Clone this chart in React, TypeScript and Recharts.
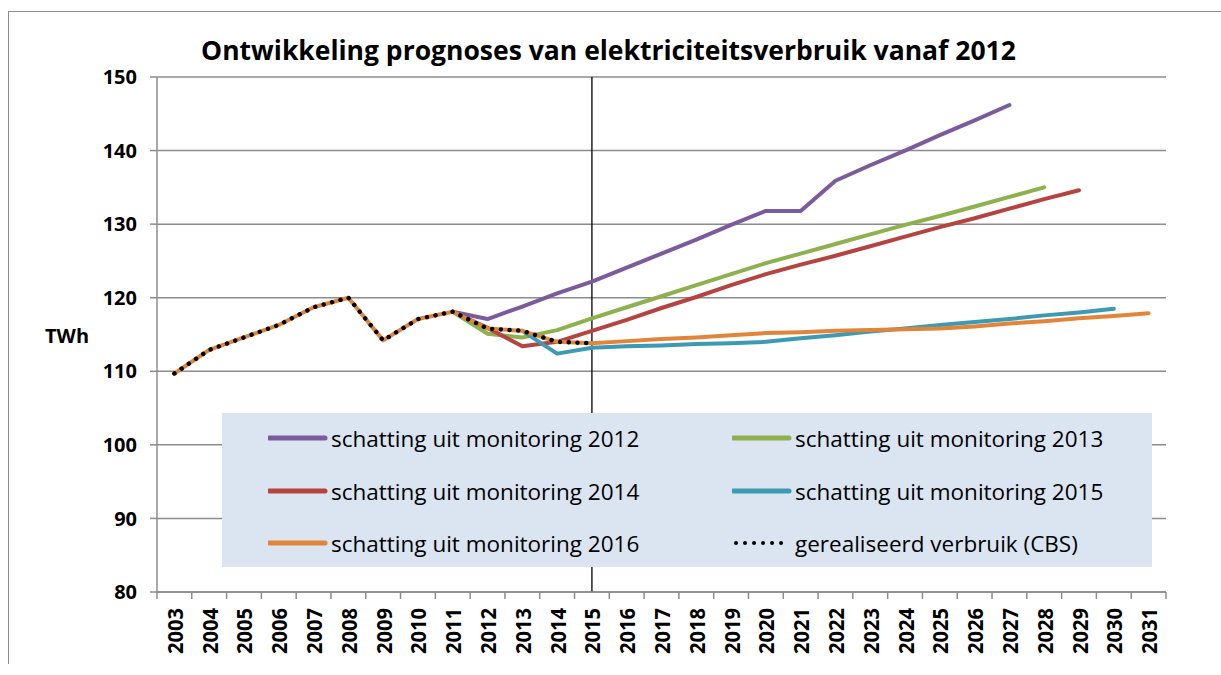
import React from 'react';
import { LineChart, Line, XAxis, YAxis, CartesianGrid, ReferenceLine, Legend } from 'recharts';

// ---------- data ----------
const years = [
  '2003', '2004', '2005', '2006', '2007', '2008', '2009', '2010', '2011', '2012',
  '2013', '2014', '2015', '2016', '2017', '2018', '2019', '2020', '2021', '2022',
  '2023', '2024', '2025', '2026', '2027', '2028', '2029', '2030', '2031',
];
const yTicks = [80, 90, 100, 110, 120, 130, 140, 150];

// realised consumption (CBS), 2003..2015
const actual = [109.7, 112.9, 114.6, 116.3, 118.7, 120.0, 114.2, 117.1, 118.1, 115.8, 115.5, 114.0, 113.8];

// forecasts; each starts at the given year
const mon2012Start = '2011';
const mon2012 = [118.1, 117.1, 118.8, 120.6, 122.2, 124.1, 126.0, 127.9, 129.9, 131.8, 131.8, 135.9, 138.0, 140.0, 142.1, 144.1, 146.2];
const mon2013Start = '2011';
const mon2013 = [118.1, 115.1, 114.6, 115.6, 117.2, 118.7, 120.2, 121.7, 123.2, 124.7, 126.0, 127.3, 128.6, 129.9, 131.1, 132.4, 133.7, 135.0];
const mon2014Start = '2011';
const mon2014 = [118.1, 115.9, 113.4, 114.0, 115.5, 117.0, 118.6, 120.1, 121.7, 123.2, 124.5, 125.7, 127.0, 128.3, 129.6, 130.8, 132.1, 133.4, 134.6];
const mon2015Start = '2013';
const mon2015 = [115.5, 112.4, 113.2, 113.4, 113.5, 113.7, 113.8, 114.0, 114.5, 114.9, 115.4, 115.8, 116.3, 116.7, 117.1, 117.6, 118.0, 118.5];
const mon2016Start = '2003';
const mon2016 = [109.7, 112.9, 114.6, 116.3, 118.7, 120.0, 114.2, 117.1, 118.1, 115.8, 115.5, 114.0, 113.8,
  114.1, 114.4, 114.6, 114.9, 115.2, 115.3, 115.5, 115.6, 115.7, 115.8, 116.1, 116.5, 116.8, 117.2, 117.5, 117.9];

const seriesNames = [
  'schatting uit monitoring 2012',
  'schatting uit monitoring 2013',
  'schatting uit monitoring 2014',
  'schatting uit monitoring 2015',
  'schatting uit monitoring 2016',
  'gerealiseerd verbruik (CBS)',
];
const titleText = 'Ontwikkeling prognoses van elektriciteitsverbruik vanaf 2012';
const yUnit = 'TWh';
const markerYear = '2015';

// ---------- styling ----------
const COLORS = ['#7A5B9C', '#8DB14E', '#B4443F', '#3C9AB3', '#E0853A', '#000000'];
const FONT = "'Open Sans', 'DejaVu Sans', sans-serif";
const AXIS = '#8C8C8C';

const W = 1221;
const H = 675;
const PLOT_LEFT = 157;
const PLOT_RIGHT = 1166;
const PLOT_TOP = 77;
const PLOT_BOTTOM = 592;
const BAND = (PLOT_RIGHT - PLOT_LEFT) / years.length;

function place(start: string, vals: number[]) {
  const s = years.indexOf(start);
  return (i: number) => (i >= s && i < s + vals.length ? vals[i - s] : null);
}

const p2012 = place(mon2012Start, mon2012);
const p2013 = place(mon2013Start, mon2013);
const p2014 = place(mon2014Start, mon2014);
const p2015 = place(mon2015Start, mon2015);
const p2016 = place(mon2016Start, mon2016);
const pAct = place('2003', actual);

const data = years.map((y, i) => ({
  year: y,
  m2012: p2012(i),
  m2013: p2013(i),
  m2014: p2014(i),
  m2015: p2015(i),
  m2016: p2016(i),
  cbs: pAct(i),
}));

const XTick = (props: any) => {
  const { x, payload, index } = props;
  const axisY = PLOT_BOTTOM;
  const half = BAND / 2;
  const isLast = index === years.length - 1;
  const ty = axisY + 16;
  return (
    <g>
      <line x1={x - half} x2={x - half} y1={axisY} y2={axisY + 7} stroke={AXIS} strokeWidth={1.5} />
      {isLast && <line x1={x + half} x2={x + half} y1={axisY} y2={axisY + 7} stroke={AXIS} strokeWidth={1.5} />}
      <text
        x={x}
        y={ty}
        transform={`rotate(-90 ${x} ${ty})`}
        textAnchor="end"
        dominantBaseline="central"
        fontFamily={FONT}
        fontWeight={700}
        fontSize={21.5}
        textLength={46}
        lengthAdjust="spacingAndGlyphs"
        fill="#000"
      >
        {payload.value}
      </text>
    </g>
  );
};

const LegendContent = (props: any) => {
  const raw = props.payload || [];
  const payload = seriesNames
    .map((n) => raw.find((p: any) => p.value === n))
    .filter(Boolean);
  const rows = [25, 78, 130];
  const cols = [46, 510];
  return (
    <div style={{ position: 'relative', width: 930, height: 154, background: '#DBE5F1' }}>
      {payload.map((p: any, i: number) => {
        const r = Math.floor(i / 2);
        const c = i % 2;
        const dashed = p.value === seriesNames[5];
        return (
          <div
            key={i}
            style={{
              position: 'absolute',
              left: cols[c],
              top: rows[r] - 15,
              height: 30,
              display: 'flex',
              alignItems: 'center',
              whiteSpace: 'nowrap',
            }}
          >
            <svg width={60} height={10} style={{ display: 'block' }}>
              {dashed ? (
                <line x1={4} x2={56} y1={5} y2={5} stroke="#000" strokeWidth={4} strokeLinecap="round" strokeDasharray="0.01 9" />
              ) : (
                <line x1={1} x2={57} y1={5} y2={5} stroke={p.color} strokeWidth={5} strokeLinecap="round" />
              )}
            </svg>
            <span style={{ fontFamily: FONT, fontSize: 22.5, color: '#000', marginLeft: 3 }}>{p.value}</span>
          </div>
        );
      })}
    </div>
  );
};

export default function App() {
  const keys = ['m2012', 'm2013', 'm2014', 'm2015', 'm2016'];
  return (
    <div style={{ position: 'absolute', left: 0, top: 0, width: W, height: H, background: '#fff', overflow: 'hidden' }}>
      <div
        style={{
          position: 'absolute',
          left: 8,
          top: 11,
          width: W,
          height: 652,
          borderTop: '1.5px solid #8C8C8C',
          borderLeft: '1.5px solid #8C8C8C',
        }}
      />
      <div
        style={{
          position: 'absolute',
          left: 0,
          top: 37,
          width: 1217,
          textAlign: 'center',
          fontFamily: FONT,
          fontWeight: 700,
          fontSize: 26.5,
          lineHeight: '26px',
          color: '#000',
          whiteSpace: 'nowrap',
        }}
      >
        {titleText}
      </div>
      <div
        style={{
          position: 'absolute',
          left: 45,
          top: 326,
          fontFamily: FONT,
          fontWeight: 700,
          fontSize: 20,
          lineHeight: '20px',
          color: '#000',
        }}
      >
        {yUnit}
      </div>
      <LineChart
        width={W}
        height={H}
        data={data}
        margin={{ top: PLOT_TOP, right: W - PLOT_RIGHT, bottom: 0, left: PLOT_LEFT - 60 }}
      >
        <CartesianGrid horizontal vertical={false} stroke={AXIS} strokeWidth={1.5} />
        <XAxis
          dataKey="year"
          interval={0}
          padding={{ left: BAND / 2, right: BAND / 2 }}
          axisLine={{ stroke: AXIS, strokeWidth: 1.5 }}
          tickLine={false}
          tick={<XTick />}
          height={H - PLOT_BOTTOM}
        />
        <YAxis
          width={60}
          domain={[80, 150]}
          ticks={yTicks}
          interval={0}
          axisLine={{ stroke: AXIS, strokeWidth: 1.5 }}
          tickLine={{ stroke: AXIS, strokeWidth: 1.5 }}
          tickSize={7}
          tickMargin={13}
          tick={{ fill: '#000', fontSize: 20, fontWeight: 700, fontFamily: FONT }}
        />
        <ReferenceLine x={markerYear} stroke="#000" strokeWidth={1.3} />
        {keys.map((k, i) => (
          <Line
            key={k}
            type="linear"
            dataKey={k}
            name={seriesNames[i]}
            stroke={COLORS[i]}
            strokeWidth={4}
            strokeLinecap="round"
            strokeLinejoin="round"
            dot={false}
            activeDot={false}
            isAnimationActive={false}
          />
        ))}
        <Line
          type="linear"
          dataKey="cbs"
          name={seriesNames[5]}
          stroke={COLORS[5]}
          strokeWidth={4.5}
          strokeLinecap="round"
          strokeDasharray="0.01 8.7"
          dot={false}
          activeDot={false}
          isAnimationActive={false}
        />
        <Legend
          layout="horizontal"
          verticalAlign="middle"
          align="center"
          content={<LegendContent />}
          wrapperStyle={{ left: 222, top: 413, width: 930, height: 154 }}
        />
      </LineChart>
    </div>
  );
}
